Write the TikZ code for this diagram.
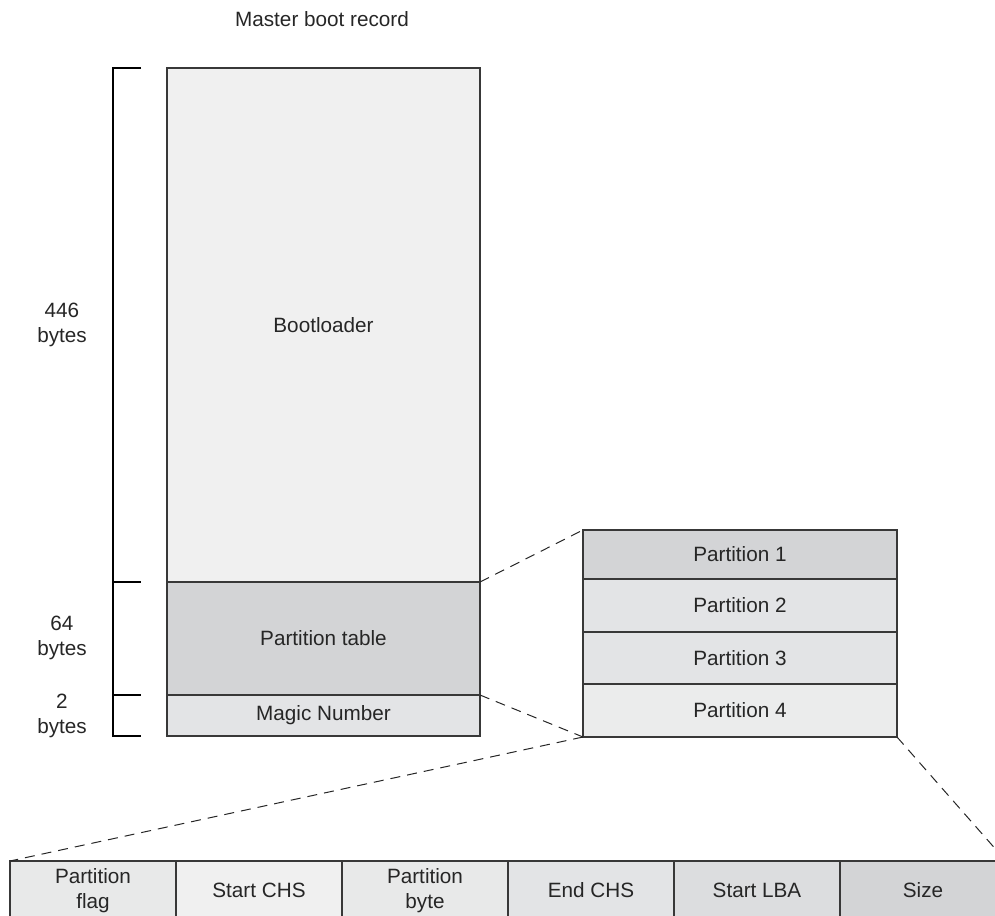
\documentclass[tikz,border=0pt]{standalone}
\usepackage{fontspec}
\setmainfont{Liberation Sans}
\begin{document}
\begin{tikzpicture}[x=1pt,y=-1pt,
  font=\fontsize{20.7}{25}\selectfont,
  txt/.style={text=black!85},
  cell/.style={draw=black!78, line width=1.3pt, rectangle, anchor=north west, inner sep=0pt, outer sep=0pt, align=center, text=black!85},
  bracketline/.style={draw=black, line width=1.2pt},
  zoomline/.style={draw=black!85, line width=1pt, dash pattern=on 10pt off 7pt}
]
\definecolor{cA}{HTML}{F0F0F0}
\definecolor{cB}{HTML}{D3D4D6}
\definecolor{cC}{HTML}{E3E4E6}
\definecolor{cD}{HTML}{EBECEC}
\definecolor{cE}{HTML}{E8E9E9}
\definecolor{cF}{HTML}{DCDDDF}
\useasboundingbox (0,0) rectangle (995,915);
\clip (0,0) rectangle (995,915);

\node[txt] (title) at (322,19) {Master boot record};

% MBR
\node[cell, fill=cA, minimum width=313pt, minimum height=514pt] (boot) at (167,68) {Bootloader};
\node[cell, fill=cB, minimum width=313pt, minimum height=113pt] (ptable) at (167,582) {Partition table};
\node[cell, fill=cC, minimum width=313pt, minimum height=41pt] (magic) at (167,695) {Magic Number};

% brackets
\draw[bracketline] (141,68) -- (113,68) -- (113,736) -- (141,736);
\draw[bracketline] (113,582) -- (141,582);
\draw[bracketline] (113,695) -- (141,695);
\node[txt, align=center] (l446) at (62,325) {446\\bytes};
\node[txt, align=center] (l64) at (62,638) {64\\bytes};
\node[txt, align=center] (l2) at (62,715.5) {2\\bytes};

% partitions
\node[cell, fill=cB, minimum width=314pt, minimum height=49pt] (p1) at (583,530) {Partition 1};
\node[cell, fill=cC, minimum width=314pt, minimum height=53pt] (p2) at (583,579) {Partition 2};
\node[cell, fill=cC, minimum width=314pt, minimum height=52pt] (p3) at (583,632) {Partition 3};
\node[cell, fill=cD, minimum width=314pt, minimum height=53pt] (p4) at (583,684) {Partition 4};

% entry fields
\node[cell, fill=cE, minimum width=166pt, minimum height=59pt] (c1) at (10,861) {Partition\\flag};
\node[cell, fill=cA, minimum width=166pt, minimum height=59pt] (c2) at (176,861) {Start CHS};
\node[cell, fill=cE, minimum width=166pt, minimum height=59pt] (c3) at (342,861) {Partition\\byte};
\node[cell, fill=cC, minimum width=166pt, minimum height=59pt] (c4) at (508,861) {End CHS};
\node[cell, fill=cF, minimum width=166pt, minimum height=59pt] (c5) at (674,861) {Start LBA};
\node[cell, fill=cB, minimum width=166pt, minimum height=59pt] (c6) at (840,861) {Size};

% zoom lines
\draw[zoomline] (ptable.north east) -- (p1.north west);
\draw[zoomline] (magic.north east) -- (p4.south west);
\draw[zoomline] (p4.south west) -- (c1.north west);
\draw[zoomline] (p4.south east) -- (c6.north east);
\end{tikzpicture}
\end{document}
